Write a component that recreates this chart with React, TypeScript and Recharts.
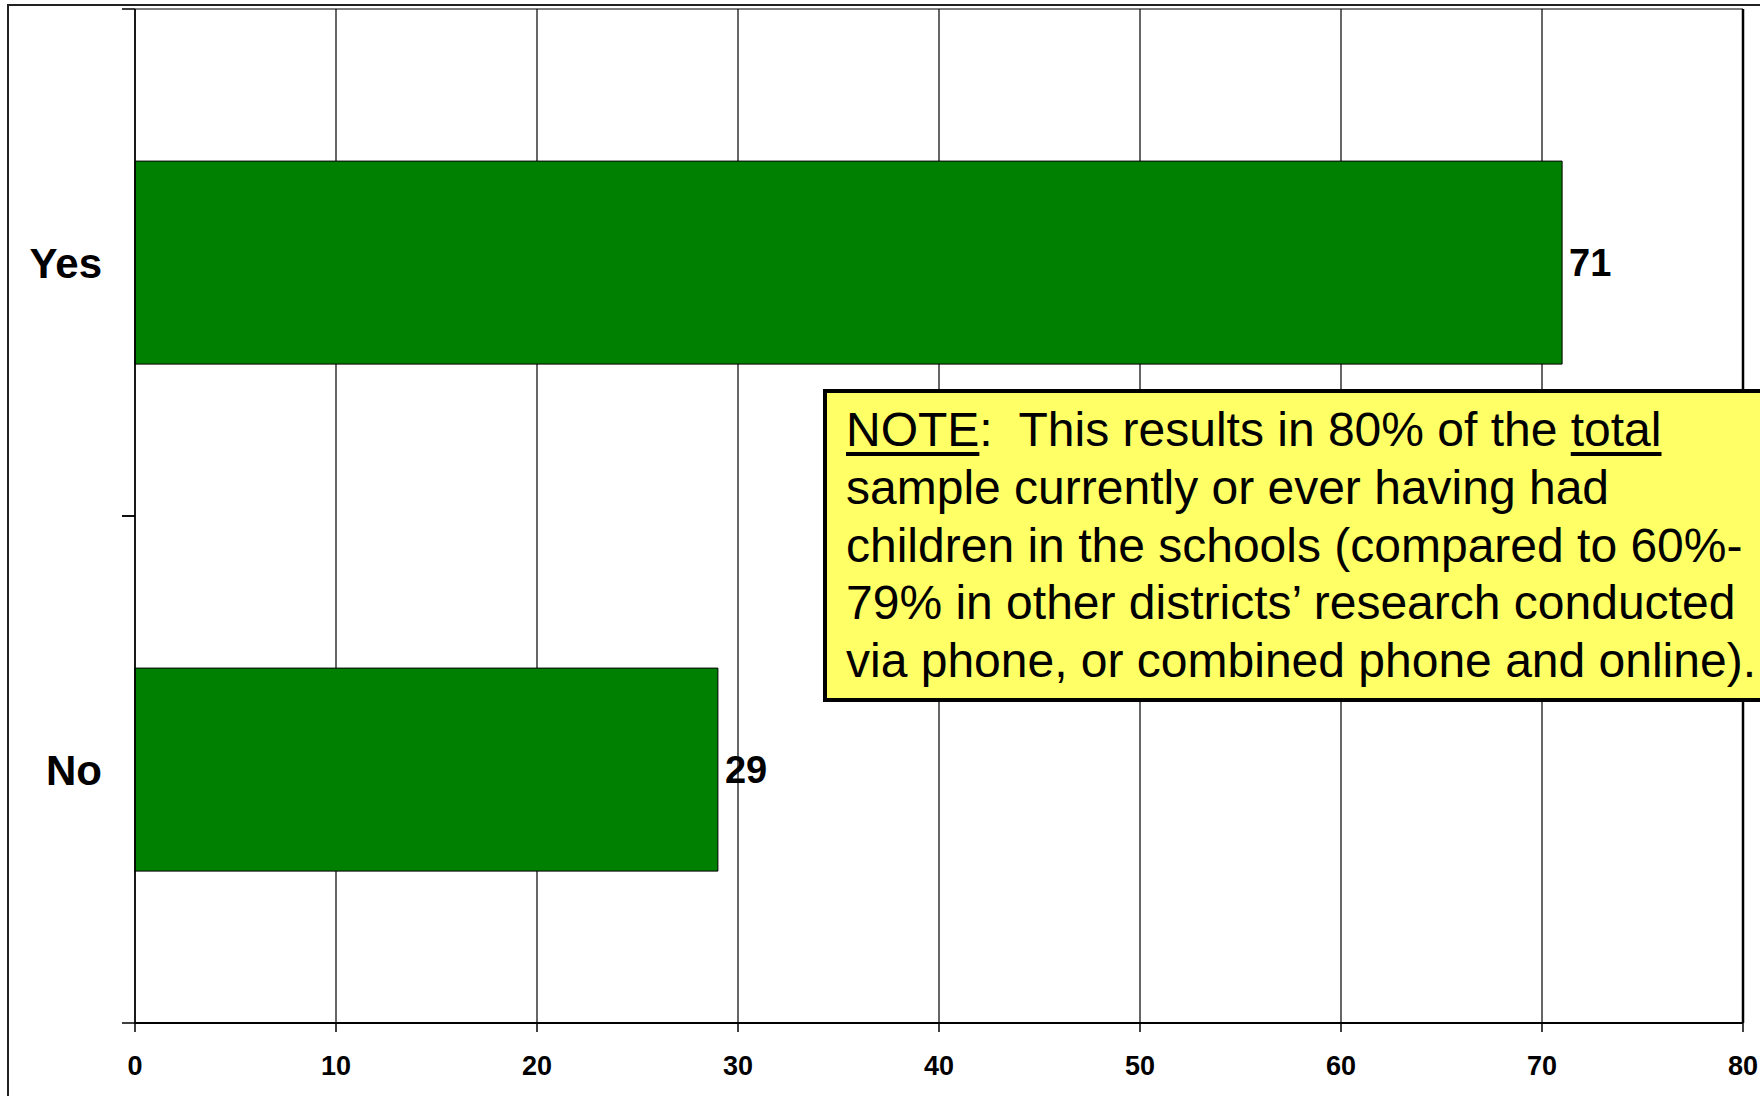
import React from 'react';
import { BarChart, Bar, XAxis, YAxis, CartesianGrid, LabelList, ReferenceLine } from 'recharts';

// Share of respondents who currently have (or have had) children in the schools
const categories = ['Yes', 'No'];
const percentValues = [71, 29];
const xTickValues = [0, 10, 20, 30, 40, 50, 60, 70, 80];

const chartData = categories.map((label, i) => ({ label, value: percentValues[i] }));

const FONT = '"Liberation Sans", Arial, Helvetica, sans-serif';
const CHART_W = 1760;
const CHART_H = 1096;
const Y_TICK_SIZE = 13;
const Y_TICK_MARGIN = 20;

// Category label, plus the short boundary ticks between categories
const CategoryTick = (props: any) => {
  const { x, y, payload } = props;
  const half = payload && typeof payload.offset === 'number' ? payload.offset : 0;
  const x1 = x + Y_TICK_MARGIN;
  const x2 = x + Y_TICK_MARGIN + Y_TICK_SIZE;
  return (
    <g>
      {half > 0 && (
        <>
          <line x1={x1} x2={x2} y1={y - half} y2={y - half} stroke="#000" strokeWidth={1.5} />
          <line x1={x1} x2={x2} y1={y + half} y2={y + half} stroke="#000" strokeWidth={1.5} />
        </>
      )}
      <text
        x={x}
        y={y}
        textAnchor="end"
        dy="0.36em"
        fill="#000"
        fontSize={42}
        fontWeight="bold"
        fontFamily={FONT}
      >
        {payload.value}
      </text>
    </g>
  );
};

const ValueTick = (props: any) => {
  const { x, y, payload } = props;
  return (
    <text
      x={x}
      y={y}
      textAnchor="middle"
      dy="0.71em"
      fill="#000"
      fontSize={27}
      fontWeight="bold"
      fontFamily={FONT}
    >
      {payload.value}
    </text>
  );
};

const underline: React.CSSProperties = {
  textDecoration: 'underline',
  textDecorationThickness: '4px',
  textUnderlineOffset: '6px',
};

const NoteBox = () => (
  <div
    style={{
      position: 'absolute',
      left: 823,
      top: 389,
      width: 1000,
      height: 313,
      boxSizing: 'border-box',
      border: '4px solid #000',
      background: '#FFFF66',
      paddingTop: 8,
      paddingLeft: 19,
      fontFamily: FONT,
      fontSize: 48,
      lineHeight: '57.8px',
      color: '#000',
      whiteSpace: 'nowrap',
    }}
  >
    <div>
      <span style={underline}>NOTE</span>:&nbsp; This results in 80% of the <span style={underline}>total</span>
    </div>
    <div>sample currently or ever having had</div>
    <div>children in the schools (compared to 60%-</div>
    <div>79% in other districts’ research conducted</div>
    <div>via phone, or combined phone and online).</div>
  </div>
);

export default function App() {
  return (
    <div
      style={{
        position: 'absolute',
        left: 0,
        top: 0,
        width: CHART_W,
        height: CHART_H,
        overflow: 'hidden',
        background: '#fff',
      }}
    >
      <div
        style={{
          position: 'absolute',
          left: 7,
          top: 4,
          width: 3000,
          height: 3000,
          borderLeft: '2px solid #222',
          borderTop: '2px solid #222',
        }}
      />
      <BarChart
        width={CHART_W}
        height={CHART_H}
        data={chartData}
        layout="vertical"
        margin={{ top: 9, right: 17, bottom: 0, left: 0 }}
        barCategoryGap="30%"
      >
        <CartesianGrid
          stroke="#000"
          strokeWidth={1.2}
          horizontalCoordinatesGenerator={({ offset }: any) => [offset.top]}
        />
        <XAxis
          type="number"
          domain={[0, 80]}
          ticks={xTickValues}
          height={73}
          tickSize={9}
          tickMargin={24}
          tickLine={{ stroke: '#000', strokeWidth: 1.5 }}
          axisLine={{ stroke: '#000', strokeWidth: 2 }}
          tick={<ValueTick />}
          interval={0}
        />
        <YAxis
          type="category"
          dataKey="label"
          width={135}
          tickSize={Y_TICK_SIZE}
          tickMargin={Y_TICK_MARGIN}
          tickLine={false}
          axisLine={{ stroke: '#000', strokeWidth: 1.5 }}
          tick={<CategoryTick />}
          interval={0}
        />
        <ReferenceLine x={80} stroke="#000" strokeWidth={2.5} />
        <Bar dataKey="value" fill="#008000" stroke="#000" strokeWidth={1} isAnimationActive={false}>
          <LabelList
            dataKey="value"
            position="right"
            offset={7}
            fill="#000"
            fontSize={38}
            fontWeight="bold"
            fontFamily={FONT}
          />
        </Bar>
      </BarChart>
      <NoteBox />
    </div>
  );
}
